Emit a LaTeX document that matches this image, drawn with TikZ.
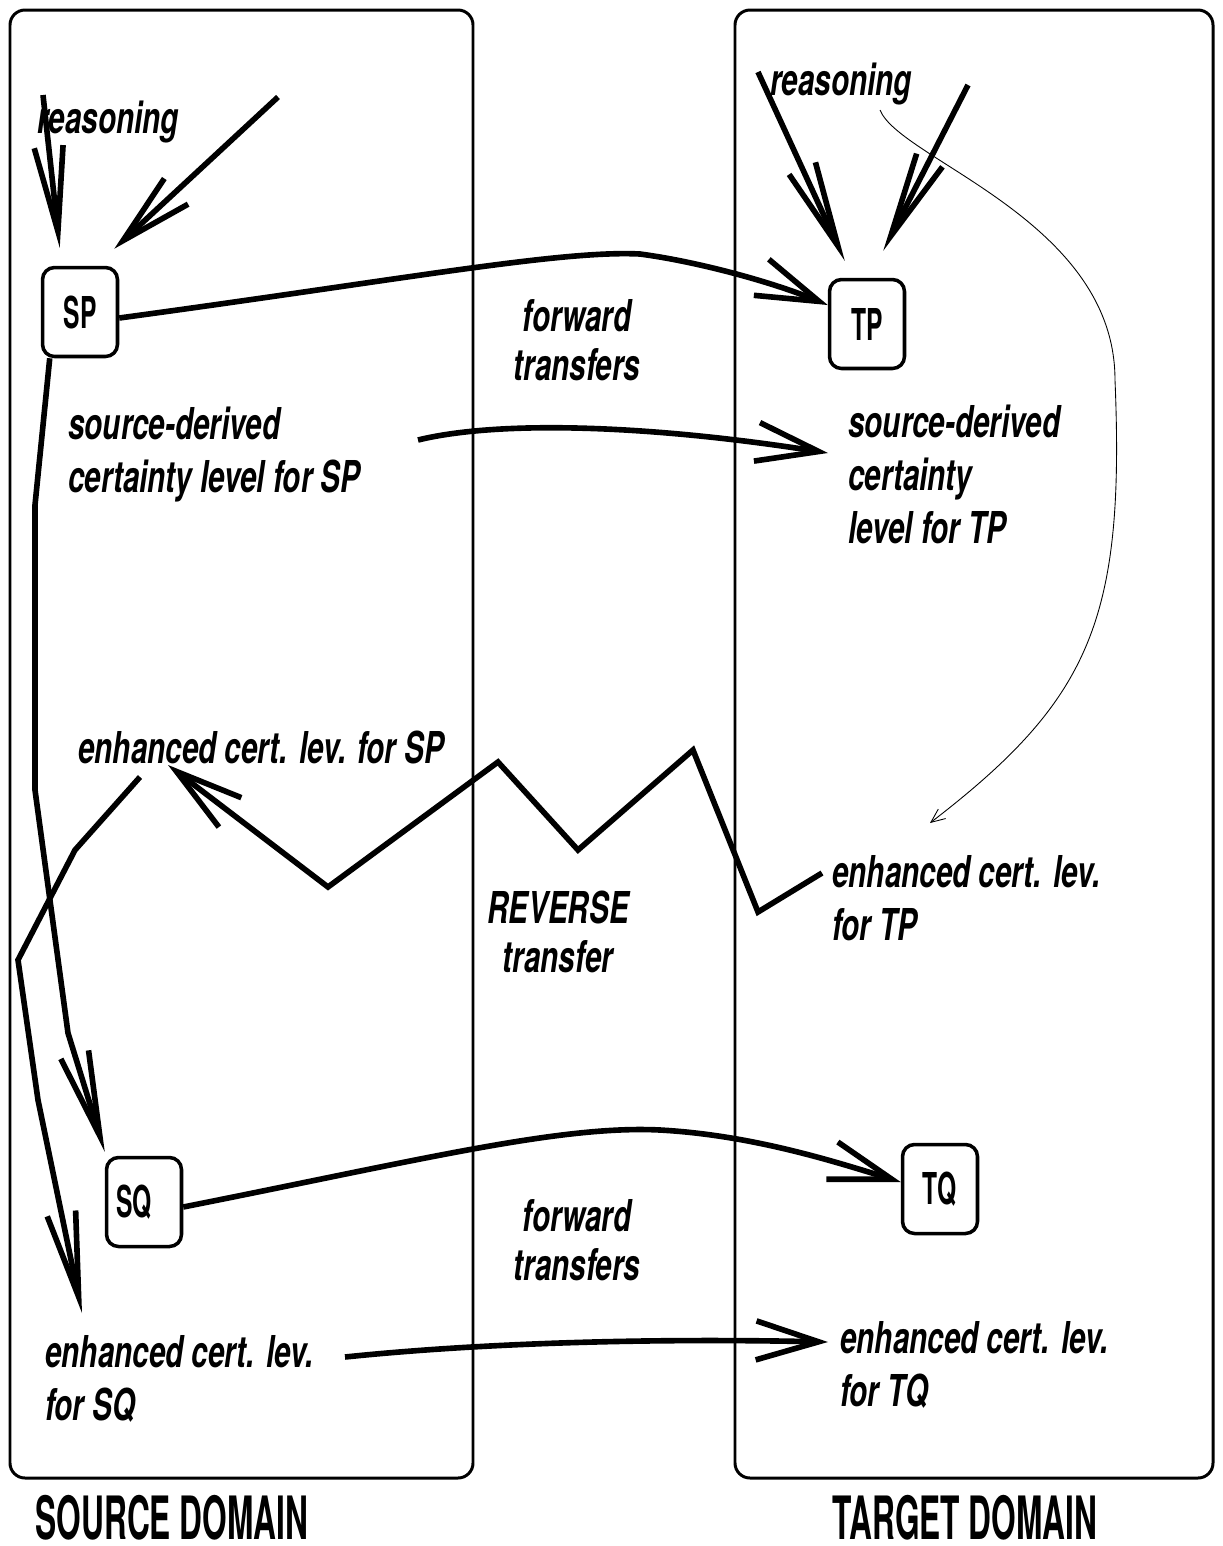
\documentclass[tikz,border=0pt]{standalone}
\usepackage{fontspec}
\newfontfamily\lblfont{TeX Gyre Heros}[FakeStretch=0.675]
\newfontfamily\boxfont{TeX Gyre Heros}[FakeStretch=0.56]
\newfontfamily\domfont{TeX Gyre Heros}[FakeStretch=0.53]
\usetikzlibrary{arrows.meta}
\tikzset{
  dombox/.style={draw, line width=1.7pt, rounded corners=0.3cm},
  pbox/.style={draw, line width=2pt, rounded corners=0.24cm, minimum width=1.5cm, minimum height=1.78cm, inner sep=0pt, font={\boxfont\bfseries\fontsize{25}{30}\selectfont}},
  lbl/.style={inner sep=0pt, font={\lblfont\bfseries\itshape\fontsize{25}{30}\selectfont}},
  lbltight/.style={inner sep=0pt, font={\lblfont\bfseries\itshape\fontsize{25}{27.5}\selectfont}},
  domtitle/.style={inner sep=0pt, font={\domfont\bfseries\fontsize{34}{40}\selectfont}},
  con/.style={line width=3.2pt, line join=miter},
  thincon/.style={line width=0.5pt},
  tipL/.style={-{Straight Barb[length=1.7cm,width=0.58cm]}},
  tipK/.style={-{Straight Barb[length=1.45cm,width=0.7cm]}},
  tipM/.style={-{Straight Barb[length=1.25cm,width=0.78cm]}},
  tipS/.style={-{Straight Barb[length=0.28cm,width=0.24cm]}},
}
\begin{document}
\begin{tikzpicture}[x=0.02cm,y=-0.02cm]
\useasboundingbox (0,0) rectangle (1223,1546);

% domains
\draw[dombox] (10,10) rectangle (473,1478);
\draw[dombox] (735,10) rectangle (1213,1478);
\node[domtitle, anchor=base] (srcT) at (172,1539) {SOURCE DOMAIN};
\node[domtitle, anchor=base] (tgtT) at (965,1539) {TARGET DOMAIN};

% proposition boxes
\node[pbox] (SP) at (80,312) {SP};
\node[pbox] (TP) at (867,324) {TP};
\node[pbox, text width=1.1cm, align=left, inner xsep=0.2cm] (SQ) at (144,1202) {SQ};
\node[pbox] (TQ) at (940,1189) {TQ};

% labels (multi-line nodes: base = last line)
\node[lbl, anchor=base west] (rsL) at (37,133) {reasoning};
\node[lbl, anchor=base west] (rsR) at (770,95) {reasoning};
\node[lbltight, anchor=base, align=center] (fw1) at (577,380) {forward\\transfers};
\node[lbl, anchor=base west, align=left] (sdSP) at (68,492) {source-derived\\certainty level for SP};
\node[lbl, anchor=base west, align=left] (sdTP) at (848,543) {source-derived\\certainty\\level for TP};
\node[lbl, anchor=base west] (ecSP) at (78,763) {enhanced cert. lev. for SP};
\node[lbl, anchor=base west, align=left] (ecTP) at (832,940) {enhanced cert. lev.\\for TP};
\node[lbltight, anchor=base, align=center] (rev) at (558,972) {REVERSE\\transfer};
\node[lbltight, anchor=base, align=center] (fw2) at (577,1280) {forward\\transfers};
\node[lbl, anchor=base west, align=left] (ecSQ) at (45,1420) {enhanced cert. lev.\\for SQ};
\node[lbl, anchor=base west, align=left] (ecTQ) at (840,1406) {enhanced cert. lev.\\for TQ};

% free ends
\coordinate (r1) at (43,95);
\coordinate (r2) at (278,97);
\coordinate (r3) at (758,72);
\coordinate (r4) at (968,85);
\coordinate (sdSPout) at (418,440);
\coordinate (sdTPin) at (828,453);
\coordinate (ecSPout) at (140,777);
\coordinate (ecSQin) at (82,1313);
\coordinate (ecTPout) at (822,873);
\coordinate (ecSPin) at (168,765);
\coordinate (ecSQout) at (345,1357);
\coordinate (ecTQin) at (828,1342);
\coordinate (rsRout) at (880,110);
\coordinate (ecTPthin) at (930,823);

% reasoning arrows
\draw[con, tipL] (r1) -- ([xshift=0.38cm,yshift=0.36cm]SP.north west);
\draw[con, tipK] (r2) -- ([xshift=-0.1cm,yshift=0.34cm]SP.north east);
\draw[con, tipL] (r3) -- ([xshift=0.34cm,yshift=0.34cm]TP.north west);
\draw[con, tipL] (r4) -- ([xshift=-0.46cm,yshift=0.54cm]TP.north east);

% forward transfers (top)
\draw[con, tipM] ([yshift=-0.12cm]SP.east) .. controls (400,280) and (560,250) .. (640,254)
   .. controls (700,262) and (775,283) .. ([yshift=0.38cm]TP.west);
\draw[con, tipM] (sdSPout) .. controls (500,420) and (650,425) .. (sdTPin);

% SP down to SQ
\draw[con, tipL] ([xshift=0.18cm]SP.south west) -- (35,505) -- (35,790) -- (68,1033) -- ([yshift=0.08cm]SQ.north west);

% enhanced SP down to enhanced SQ
\draw[con, tipL] (ecSPout) -- (75,850) -- (18,960) -- (38,1100) -- (ecSQin);

% reverse transfer zigzag
\draw[con, -{Straight Barb[length=1.35cm,width=0.74cm]}] (ecTPout) -- (758,912) -- (693,750) -- (578,850) -- (498,762) -- (328,887) -- (ecSPin);

% thin curve from reasoning to enhanced TP
\draw[thincon, tipS] (rsRout) .. controls (900,160) and (1115,220) .. (1115,380)
   .. controls (1125,620) and (1090,700) .. (ecTPthin);

% forward transfers (bottom)
\draw[con, tipM] ([yshift=-0.1cm]SQ.east) .. controls (420,1160) and (560,1125) .. (660,1130)
   .. controls (750,1135) and (830,1160) .. ([yshift=0.14cm]TQ.west);
\draw[con, tipM] (ecSQout) .. controls (480,1343) and (650,1338) .. (ecTQin);
\end{tikzpicture}
\end{document}
